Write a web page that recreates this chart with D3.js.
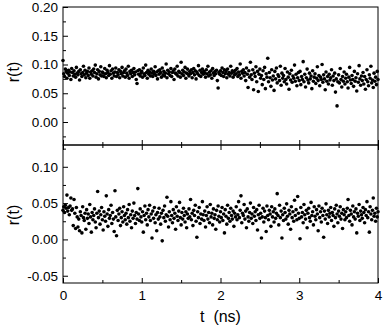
<!DOCTYPE html>
<html>
<head>
<meta charset="utf-8">
<script src="https://cdn.jsdelivr.net/npm/d3@7"></script>
<style>
  body { margin: 0; background: #fff; }
  svg { display: block; font-family: "Liberation Sans", Arial, sans-serif; }
</style>
</head>
<body>
<div id="svg-container"></div>
<script>
// ---------- data ----------
// samples every 0.01 ns from t = 0 to 4, r(t) given in thousandths
const dt = 0.01;
const topR = [
  107, 84, 79, 92, 88, 76, 85, 90, 81, 87, 74, 93, 86, 80, 89, 83, 78, 95, 85, 82,
  88, 73, 91, 84, 79, 86, 97, 82, 90, 77, 85, 88, 81, 94, 76, 87, 83, 89, 80, 92,
  86, 99, 78, 84, 91, 75, 88, 82, 96, 80, 87, 85, 79, 93, 84, 77, 90, 86, 81, 98,
  83, 89, 76, 92, 85, 80, 87, 94, 79, 86, 82, 91, 77, 88, 84, 95, 80, 86, 89, 78,
  92, 85, 81, 97, 76, 88, 84, 90, 79, 86, 93, 82, 87, 74, 67, 89, 83, 91, 80, 85,
  88, 78, 94, 84, 81, 99, 86, 76, 90, 83, 87, 80, 92, 85, 79, 88, 84, 96, 81, 87,
  75, 89, 83, 91, 86, 78, 94, 82, 88, 80, 85, 101, 77, 90, 84, 87, 81, 93, 79, 86,
  89, 74, 92, 85, 83, 97, 80, 88, 86, 78, 104, 84, 90, 81, 87, 95, 76, 85, 92, 83,
  80, 88, 84, 91, 77, 86, 93, 82, 89, 75, 87, 84, 98, 81, 90, 79, 86, 92, 83, 88,
  85, 78, 91, 84, 97, 80, 87, 82, 89, 76, 93, 85, 81, 88, 84, 90, 72, 59, 86, 83,
  89, 81, 94, 86, 79, 91, 84, 88, 77, 92, 83, 86, 80, 97, 85, 89, 78, 87, 82, 90,
  84, 93, 79, 87, 82, 101, 76, 88, 85, 91, 80, 86, 72, 94, 83, 60, 89, 78, 104, 82,
  74, 91, 56, 85, 79, 96, 70, 88, 53, 83, 92, 76, 81, 65, 89, 74, 95, 58, 84, 78,
  111, 70, 86, 77, 62, 91, 73, 80, 55, 88, 75, 94, 68, 82, 79, 72, 97, 64, 85, 76,
  81, 70, 93, 74, 66, 87, 78, 57, 84, 73, 90, 69, 80, 76, 99, 71, 83, 63, 77, 86,
  72, 88, 65, 79, 74, 105, 70, 83, 61, 77, 92, 73, 68, 85, 75, 80, 58, 89, 71, 78,
  84, 67, 76, 96, 72, 81, 63, 78, 74, 100, 69, 82, 75, 56, 87, 71, 79, 66, 83, 73,
  77, 91, 64, 80, 72, 85, 52, 75, 28, 70, 82, 68, 93, 74, 61, 79, 71, 87, 66, 76,
  83, 70, 59, 78, 95, 73, 67, 81, 74, 62, 88, 71, 77, 54, 84, 69, 98, 75, 64, 80,
  72, 86, 66, 79, 57, 74, 91, 70, 63, 82, 76, 97, 68, 73, 60, 85, 71, 78, 65, 88,
  74
];
const bottomR = [
  40, 45, 37, 47, 43, 61, 39, 44, 34, 46, 57, 40, 42, 19, 55, 36, 15, 44, 31, 17,
  28, 12, 38, 33, 9, 45, 30, 26, 36, 14, 41, 29, 35, 22, 48, 31, 10, 37, 27, 33,
  42, 24, 16, 36, 66, 30, 39, 21, 34, 44, 27, 13, 38, 32, 25, 60, 35, 18, 41, 29,
  33, 47, 22, 37, 28, 11, 67, 31, 5, 40, 26, 35, 43, 19, 30, 38, 24, 45, 33, 27,
  36, 21, 41, 30, 48, 25, 34, 16, 39, 29, 50, 33, 22, 37, 28, 70, 35, 26, 42, 31,
  24, 38, 10, 33, 46, 27, 36, 20, 41, 31, 47, 26, 35, 2, 39, 29, 44, 23, 34, 12,
  37, 28, 43, 31, 21, 36, -2, 40, 30, 46, 25, 34, 58, 32, 17, 38, 27, 52, 33, 23,
  41, 29, 36, 14, 45, 32, 26, 39, 51, 30, 20, 37, 28, 43, 33, 24, 38, 16, 35, 29,
  42, 31, 55, 27, 36, 19, 40, 33, 47, 25, 3, 38, 30, 44, 22, 35, 28, 52, 34, 26,
  39, 17, 33, 45, 28, 37, 23, 48, 31, 36, 20, 42, 29, 34, 14, 40, 27, 46, 32, 24,
  38, 30, 44, 26, 35, 9, 41, 32, 21, 47, 29, 37, 25, 43, 33, 28, 39, 18, 36, 31,
  45, 27, 34, 52, 30, 40, 60, 23, 36, 33, 48, 28, 39, 16, 42, 31, 25, 37, 50, 29,
  35, 22, 44, 32, 38, 26, 41, 13, 34, 47, 29, 36, 2, 31, 43, 24, 39, 30, 11, 46,
  33, 27, 40, 35, 18, 45, 31, 38, 24, 42, 29, 36, 63, 33, 20, 47, 30, 39, 2, 34,
  26, 43, 37, 28, 49, 32, 21, 40, 35, 14, 45, 30, 38, 25, 54, 33, 41, 27, 59, 36,
  29, 1, 44, 31, 37, 23, 48, 34, 28, 40, 16, 36, 43, 30, 25, 51, 33, 38, 20, 45,
  32, 27, 41, 35, 12, 46, 30, 38, 24, 43, 33, 3, 39, 28, 49, 34, 22, 40, 31, 36,
  44, 26, 37, 33, 18, 42, 30, 47, 35, 23, 39, 32, 45, 28, 36, 15, 41, 34, 27, 38,
  30, 43, 55, 33, 25, 40, 35, 20, 46, 31, 38, 28, 42, 9, 36, 32, 48, 26, 39, 34,
  29, 44, 37, 23, 41, 33, 52, 30, 38, 10, 45, 35, 27, 40, 57, 32, 36, 25, 43, 31,
  38
];
const xTicks = [0, 1, 2, 3, 4];
const xMinor = [0.5, 1.5, 2.5, 3.5];
const topTicks = [0.00, 0.05, 0.10, 0.15, 0.20];
const topMinor = [-0.025, 0.025, 0.075, 0.125, 0.175];
const botTicks = [-0.05, 0.00, 0.05, 0.10];
const botMinor = [-0.025, 0.025, 0.075, 0.125];

// ---------- init ----------
const width = 383, height = 327;
const mLeft = 63, mRight = 378, mTop = 7, mMid = 145, mBottom = 283;

const svg = d3.select("#svg-container").append("svg")
  .attr("width", width).attr("height", height);

const xScale = d3.scaleLinear().domain([0, 4]).range([mLeft, mRight]);
const yTop = d3.scaleLinear().domain([-0.04, 0.20]).range([mMid, mTop]);
const yBot = d3.scaleLinear().domain([-0.06, 0.13]).range([mBottom, mMid]);

const fmt = (d) => d.toFixed(2);
const toPts = (arr) => arr.map((v, i) => ({ t: i * dt, r: v / 1000 }));

function panel(data, y, ticks, minor, yTitleY) {
  // y axis, ticks inside
  svg.append("g")
    .attr("transform", `translate(${mLeft},0)`)
    .call(d3.axisLeft(y).tickValues(ticks).tickSize(-5).tickPadding(5).tickFormat(fmt))
    .call((g) => g.select(".domain").remove())
    .call((g) => g.selectAll("text").style("font-size", "13.5px").attr("fill", "#000"));
  svg.append("g")
    .attr("transform", `translate(${mLeft},0)`)
    .call(d3.axisLeft(y).tickValues(minor).tickSize(-3).tickFormat(""))
    .call((g) => g.select(".domain").remove());

  // dots
  svg.append("g")
    .selectAll("circle")
    .data(toPts(data))
    .join("circle")
    .attr("cx", (d) => xScale(d.t))
    .attr("cy", (d) => y(d.r))
    .attr("r", 1.8)
    .attr("fill", "#000");

  // frame
  svg.append("rect")
    .attr("x", mLeft).attr("y", y.range()[1])
    .attr("width", mRight - mLeft).attr("height", y.range()[0] - y.range()[1])
    .attr("fill", "none").attr("stroke", "#000").attr("stroke-width", 1);

  svg.append("text")
    .attr("transform", `translate(19,${yTitleY}) rotate(-90)`)
    .style("text-anchor", "middle")
    .style("font-size", "16px")
    .text("r(t)");
}

panel(topR, yTop, topTicks, topMinor, 72);
panel(bottomR, yBot, botTicks, botMinor, 215);

// x ticks: bottom of top panel, top of bottom panel, bottom of bottom panel
function xTicksAt(yPos, dir, labels) {
  svg.append("g")
    .attr("transform", `translate(0,${yPos})`)
    .call(d3.axisBottom(xScale).tickValues(xTicks).tickSize(-5 * dir).tickPadding(7)
      .tickFormat(labels ? d3.format("d") : ""))
    .call((g) => g.select(".domain").remove())
    .call((g) => g.selectAll("text").style("font-size", "13.5px").attr("fill", "#000"));
  svg.append("g")
    .attr("transform", `translate(0,${yPos})`)
    .call(d3.axisBottom(xScale).tickValues(xMinor).tickSize(-3 * dir).tickFormat(""))
    .call((g) => g.select(".domain").remove());
}
xTicksAt(mMid, 1, false);
xTicksAt(mMid, -1, false);
xTicksAt(mBottom, 1, true);

svg.append("text")
  .attr("x", (mLeft + mRight) / 2)
  .attr("y", 322)
  .style("text-anchor", "middle")
  .style("font-size", "16px")
  .attr("xml:space", "preserve")
  .text("t  (ns)");
</script>
</body>
</html>
